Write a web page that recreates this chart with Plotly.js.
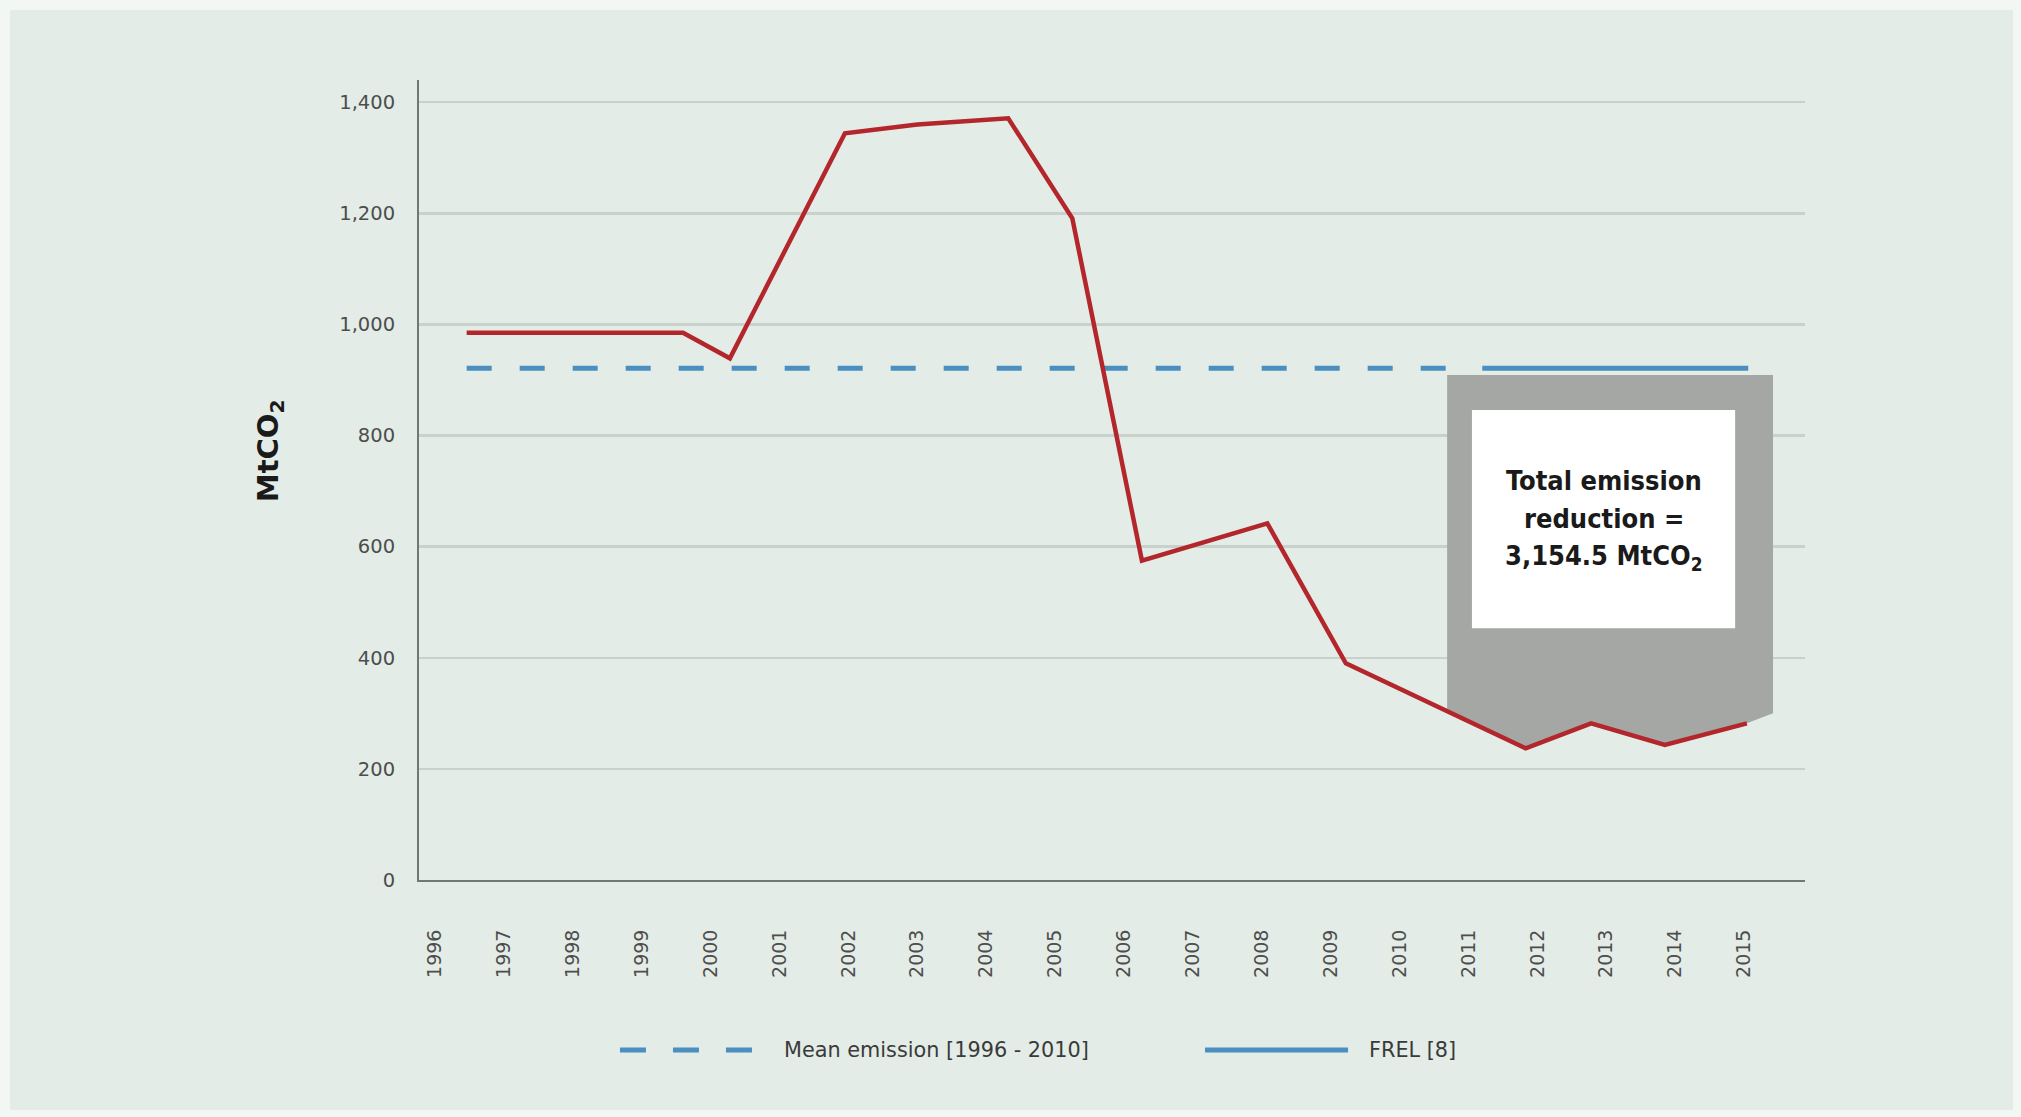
<!DOCTYPE html>
<html>
<head>
<meta charset="utf-8">
<script src="https://cdn.plot.ly/plotly-3.0.1.min.js"></script>
<style>
  html, body { margin: 0; padding: 0; background: #f3f7f4; }
  #chart { position: absolute; left: 10px; top: 10px; width: 2003px; height: 1100px; }
</style>
</head>
<body>
<div id="chart"></div>
<script>
// ---- Data ----
const yearTicks = [1996, 1997, 1998, 1999, 2000, 2001, 2002, 2003, 2004, 2005,
                   2006, 2007, 2008, 2009, 2010, 2011, 2012, 2013, 2014, 2015];
const yearLabels = yearTicks.map(String);

// Emission line vertices (positions as drawn, in year units) and values (MtCO2)
const emissionX = [1996.46, 1999.60, 2000.28, 2001.95, 2003.0, 2004.32, 2005.25,
                   2006.26, 2008.08, 2009.22, 2011.83, 2012.78, 2013.85, 2015.04];
const emissionY = [985, 985, 939, 1344, 1360, 1371, 1191,
                   575, 642, 390, 237, 282, 243, 282];

// Mean emission 1996-2010 (dashed) and FREL (solid)
const meanX = [1996.46, 2010.76];
const meanY = [921, 921];
const frelX = [2011.2, 2015.06];
const frelY = [921, 921];

// Shaded reduction area
const reductionStart = 2010.69;
const reductionEnd = 2015.42;
const reductionTop = 909;
const reductionRightBottom = 300;

const yTicks = [0, 200, 400, 600, 800, 1000, 1200, 1400];

const boxLines = ['Total emission', 'reduction =', '3,154.5 MtCO<sub>2</sub>'];
const boxLineValues = [720, 651, 581];
const boxX = [2011.05, 2014.87];
const boxY = [453, 846];
const legendMean = 'Mean emission [1996 - 2010]';
const legendFrel = 'FREL [8]';
const yTitle = 'MtCO<sub>2</sub>';

// ---- Build shaded polygon from the emission series ----
function interp(x) {
  for (let i = 0; i < emissionX.length - 1; i++) {
    if (x >= emissionX[i] && x <= emissionX[i + 1]) {
      const t = (x - emissionX[i]) / (emissionX[i + 1] - emissionX[i]);
      return emissionY[i] + t * (emissionY[i + 1] - emissionY[i]);
    }
  }
  return emissionY[emissionY.length - 1];
}
const polyX = [reductionStart, reductionEnd, reductionEnd];
const polyY = [reductionTop, reductionTop, reductionRightBottom];
for (let i = emissionX.length - 1; i >= 0; i--) {
  if (emissionX[i] > reductionStart && emissionX[i] <= reductionEnd) {
    polyX.push(emissionX[i]); polyY.push(emissionY[i]);
  }
}
polyX.push(reductionStart); polyY.push(interp(reductionStart));

const traces = [
  {
    name: 'Emission reduction', x: polyX, y: polyY, type: 'scatter', mode: 'lines',
    fill: 'toself', fillcolor: '#a4a7a4', line: { width: 0, color: '#a4a7a4' },
    showlegend: false, hoverinfo: 'skip'
  },
  {
    name: legendMean, x: meanX, y: meanY, type: 'scatter', mode: 'lines',
    line: { color: '#4a8fc0', width: 5, dash: '25px,28px' }, showlegend: false
  },
  {
    name: legendFrel, x: frelX, y: frelY, type: 'scatter', mode: 'lines',
    line: { color: '#4a8fc0', width: 5 }, showlegend: false
  },
  {
    name: 'Emission', x: emissionX, y: emissionY, type: 'scatter', mode: 'lines',
    line: { color: '#b3262b', width: 4.5 }, showlegend: false
  }
];

const fontTick = 'DejaVu Sans, sans-serif';
const fontBox = 'DejaVu Sans Condensed, DejaVu Sans, sans-serif';

const annotations = [
  { xref: 'paper', yref: 'paper', x: -0.1075, y: 0.536, text: yTitle, showarrow: false,
    textangle: -90, xanchor: 'center', yanchor: 'middle',
    font: { family: fontTick, size: 29, color: '#1a1a1a', weight: 'bold' } },
  { xref: 'paper', yref: 'paper', x: 0.2619, y: -0.2125, text: legendMean, showarrow: false,
    xanchor: 'left', yanchor: 'middle',
    font: { family: fontTick, size: 20.8, color: '#3a3a3a' } },
  { xref: 'paper', yref: 'paper', x: 0.684, y: -0.2125, text: legendFrel, showarrow: false,
    xanchor: 'left', yanchor: 'middle',
    font: { family: fontTick, size: 20.8, color: '#3a3a3a' } }
];
boxLines.forEach((t, i) => {
  annotations.push({
    xref: 'x', yref: 'y', x: (boxX[0] + boxX[1]) / 2, y: boxLineValues[i], text: t,
    showarrow: false, xanchor: 'center', yanchor: 'middle',
    font: { family: fontBox, size: 27, color: '#1a1a1a', weight: 'bold' }
  });
});

const layout = {
  width: 2003, height: 1100,
  paper_bgcolor: '#e3ece6', plot_bgcolor: 'rgba(0,0,0,0)',
  margin: { l: 409, r: 208, t: 70, b: 230 },
  showlegend: false,
  xaxis: {
    range: [1995.768, 2015.884], tickvals: yearTicks, ticktext: yearLabels,
    tickangle: -90, showgrid: false, zeroline: false,
    showline: true, linecolor: '#6f7875', linewidth: 2,
    ticks: '', ticklabelstandoff: 40,
    tickfont: { family: fontTick, size: 19, color: '#4d4d4d' }
  },
  yaxis: {
    range: [0, 1440], tickvals: yTicks, tickformat: ',d',
    showgrid: true, gridcolor: '#c8d1cb', gridwidth: 2.5, zeroline: false,
    showline: true, linecolor: '#6f7875', linewidth: 2,
    ticks: '', ticklabelstandoff: 18,
    tickfont: { family: fontTick, size: 19.5, color: '#4d4d4d' }
  },
  shapes: [
    { type: 'rect', xref: 'x', yref: 'y', x0: boxX[0], x1: boxX[1], y0: boxY[0], y1: boxY[1],
      fillcolor: '#ffffff', line: { width: 0 }, layer: 'above' },
    { type: 'line', xref: 'paper', yref: 'paper', x0: 0.145, x1: 0.2406, y0: -0.2125, y1: -0.2125,
      line: { color: '#4a8fc0', width: 5, dash: '26px,27px' } },
    { type: 'line', xref: 'paper', yref: 'paper', x0: 0.5671, x1: 0.6703, y0: -0.2125, y1: -0.2125,
      line: { color: '#4a8fc0', width: 5 } }
  ],
  annotations: annotations
};

Plotly.newPlot('chart', traces, layout, { displayModeBar: false, staticPlot: true });
</script>
</body>
</html>
